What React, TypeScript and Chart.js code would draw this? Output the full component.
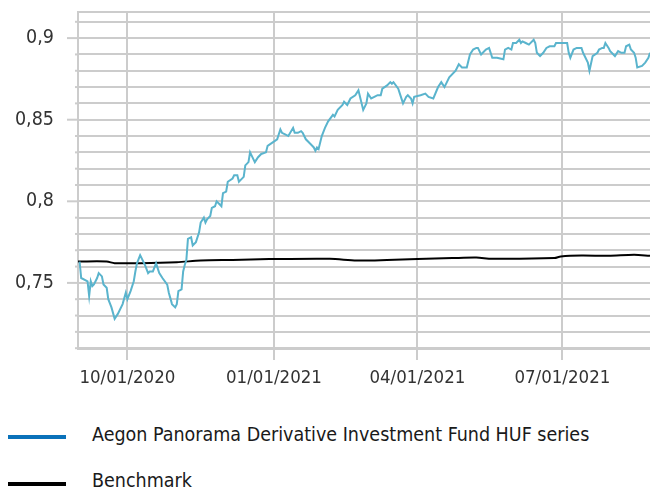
import React, { useEffect, useRef } from 'react';
import { Chart, registerables } from 'chart.js';

Chart.register(...registerables);

// ---- data ----
const seriesNames = ['Aegon Panorama Derivative Investment Fund HUF series', 'Benchmark'];

const fundDates = [
  '2020-09-01','2020-09-02','2020-09-06','2020-09-07','2020-09-08','2020-09-09','2020-09-10','2020-09-12','2020-09-13','2020-09-15',
  '2020-09-16','2020-09-18','2020-09-19','2020-09-21','2020-09-23','2020-09-25','2020-09-28','2020-09-30','2020-10-01','2020-10-03',
  '2020-10-05','2020-10-06','2020-10-07','2020-10-09','2020-10-10','2020-10-12','2020-10-14','2020-10-15','2020-10-17','2020-10-19',
  '2020-10-21','2020-10-23','2020-10-26','2020-10-27','2020-10-29','2020-10-31','2020-11-01','2020-11-02','2020-11-04','2020-11-05',
  '2020-11-06','2020-11-07','2020-11-08','2020-11-10','2020-11-11','2020-11-13','2020-11-15','2020-11-16','2020-11-18','2020-11-19',
  '2020-11-20','2020-11-22','2020-11-23','2020-11-25','2020-11-26','2020-11-28','2020-11-29','2020-11-30','2020-12-02','2020-12-03',
  '2020-12-06','2020-12-07','2020-12-09','2020-12-10','2020-12-11','2020-12-13','2020-12-14','2020-12-16','2020-12-17','2020-12-18',
  '2020-12-20','2020-12-22','2020-12-24','2020-12-27','2020-12-28','2020-12-31','2021-01-03','2021-01-05','2021-01-06','2021-01-08',
  '2021-01-10','2021-01-13','2021-01-14','2021-01-16','2021-01-18','2021-01-19','2021-01-21','2021-01-23','2021-01-25','2021-01-26',
  '2021-01-27','2021-01-28','2021-01-29','2021-01-31','2021-02-02','2021-02-04','2021-02-07','2021-02-08','2021-02-10','2021-02-13',
  '2021-02-14','2021-02-16','2021-02-18','2021-02-21','2021-02-23','2021-02-26','2021-02-28','2021-03-01','2021-03-03','2021-03-05',
  '2021-03-07','2021-03-09','2021-03-10','2021-03-13','2021-03-15','2021-03-16','2021-03-17','2021-03-20','2021-03-21','2021-03-23',
  '2021-03-25','2021-03-26','2021-03-28','2021-03-29','2021-03-30','2021-04-03','2021-04-06','2021-04-08','2021-04-11','2021-04-14',
  '2021-04-16','2021-04-18','2021-04-21','2021-04-25','2021-04-27','2021-04-29','2021-05-02','2021-05-04','2021-05-06','2021-05-08',
  '2021-05-09','2021-05-11','2021-05-14','2021-05-16','2021-05-18','2021-05-21','2021-05-25','2021-05-26','2021-05-28','2021-05-30',
  '2021-05-31','2021-06-02','2021-06-04','2021-06-05','2021-06-06','2021-06-08','2021-06-10','2021-06-13','2021-06-14','2021-06-15',
  '2021-06-17','2021-06-19','2021-06-21','2021-06-23','2021-06-26','2021-06-27','2021-06-30','2021-07-02','2021-07-04','2021-07-05',
  '2021-07-06','2021-07-08','2021-07-10','2021-07-13','2021-07-14','2021-07-17','2021-07-18','2021-07-20','2021-07-23','2021-07-24',
  '2021-07-26','2021-07-27','2021-07-28','2021-07-30','2021-07-31','2021-08-03','2021-08-05','2021-08-07','2021-08-09','2021-08-10',
  '2021-08-12','2021-08-13','2021-08-15','2021-08-16','2021-08-17','2021-08-20','2021-08-22','2021-08-24','2021-08-25',
];

const fundValues = [
  0.763,0.753,0.751,0.742,0.751,0.748,0.749,0.753,0.756,0.754,
  0.749,0.747,0.740,0.735,0.728,0.731,0.737,0.744,0.740,0.745,
  0.751,0.757,0.762,0.767,0.765,0.761,0.756,0.757,0.757,0.762,
  0.756,0.753,0.749,0.744,0.737,0.735,0.737,0.745,0.746,0.757,
  0.761,0.764,0.777,0.778,0.773,0.775,0.781,0.787,0.790,0.787,
  0.789,0.791,0.796,0.797,0.800,0.798,0.797,0.805,0.806,0.812,
  0.814,0.816,0.816,0.812,0.813,0.815,0.822,0.824,0.830,0.828,
  0.824,0.827,0.829,0.830,0.834,0.836,0.838,0.844,0.842,0.841,
  0.840,0.845,0.842,0.842,0.843,0.842,0.838,0.836,0.834,0.833,
  0.831,0.833,0.832,0.840,0.845,0.849,0.853,0.852,0.856,0.859,
  0.861,0.859,0.863,0.865,0.868,0.856,0.860,0.866,0.863,0.864,
  0.865,0.865,0.869,0.871,0.873,0.872,0.873,0.869,0.866,0.860,
  0.864,0.865,0.863,0.860,0.864,0.865,0.866,0.864,0.863,0.870,
  0.873,0.870,0.876,0.880,0.884,0.882,0.882,0.890,0.893,0.894,
  0.894,0.890,0.893,0.894,0.888,0.888,0.887,0.893,0.894,0.893,
  0.897,0.897,0.899,0.897,0.898,0.897,0.896,0.899,0.897,0.891,
  0.889,0.891,0.894,0.895,0.895,0.897,0.897,0.897,0.897,0.891,
  0.888,0.893,0.894,0.894,0.891,0.885,0.880,0.889,0.891,0.893,
  0.894,0.894,0.897,0.894,0.892,0.889,0.892,0.891,0.891,0.895,
  0.896,0.893,0.891,0.888,0.882,0.883,0.885,0.888,0.891,
];

const benchDates = [
  '2020-08-31','2020-09-18','2020-09-23','2020-10-09','2020-11-01','2020-11-16','2020-12-06','2020-12-29',
  '2021-02-05','2021-02-22','2021-03-13','2021-04-01','2021-04-23','2021-05-08','2021-05-18','2021-06-26',
  '2021-06-30','2021-07-13','2021-07-30','2021-08-15','2021-08-25',
];
const benchValues = [
  0.7631,0.7631,0.7621,0.7621,0.7627,0.7637,0.7641,0.7646,
  0.7648,0.7637,0.7640,0.7646,0.7652,0.7655,0.7648,0.7652,
  0.7662,0.7668,0.7666,0.7672,0.7666,
];

const xTickDates = ['2020-10-01', '2021-01-01', '2021-04-01', '2021-07-01'];
const xTickLabels = ['10/01/2020', '01/01/2021', '04/01/2021', '07/01/2021'];
const xRange = ['2020-08-31', '2021-08-25'];
const yMin = 0.7095;
const yMax = 0.916;
const yLabelValues = [0.75, 0.8, 0.85, 0.9];

// ---- styles ----
const FONT = "'DejaVu Sans Condensed', 'DejaVu Sans', sans-serif";
const GRID = '#cccccc';
const FUND_LINE = '#5ab4cd';
const FUND_LEGEND = '#0a72ba';
const TEXT = '#333333';

const toDay = (s: string) => Date.parse(s + 'T00:00:00Z') / 86400000;

const yTickPlugin = {
  id: 'yTickMarks',
  afterDraw(chart: any) {
    const s = chart.scales.y;
    const ctx = chart.ctx;
    ctx.save();
    ctx.strokeStyle = GRID;
    ctx.lineWidth = 2;
    s.ticks.forEach((t: any) => {
      if (t.value > yMax - 0.0005) return;
      const major = yLabelValues.some((v) => Math.abs(v - t.value) < 1e-6);
      const y = s.getPixelForValue(t.value);
      const len = major ? 11 : 3;
      ctx.beginPath();
      ctx.moveTo(s.right - len, y);
      ctx.lineTo(s.right, y);
      ctx.stroke();
    });
    ctx.restore();
  },
};

export default function App() {
  const ref = useRef<HTMLCanvasElement>(null);

  useEffect(() => {
    document.body.style.margin = '0';
    const canvas = ref.current!;
    const chart = new Chart(canvas, {
      type: 'line',
      data: {
        datasets: [
          {
            label: seriesNames[0],
            data: fundDates.map((d, i) => ({ x: toDay(d), y: fundValues[i] })),
            borderColor: FUND_LINE,
            backgroundColor: FUND_LEGEND,
            borderWidth: 2,
            pointRadius: 0,
            tension: 0,
          },
          {
            label: seriesNames[1],
            data: benchDates.map((d, i) => ({ x: toDay(d), y: benchValues[i] })),
            borderColor: '#000000',
            backgroundColor: '#000000',
            borderWidth: 2,
            pointRadius: 0,
            tension: 0.3,
          },
        ],
      },
      options: {
        animation: false,
        responsive: false,
        layout: { padding: { top: 12, left: 0, right: 0, bottom: 0 } },
        plugins: { legend: { display: false }, tooltip: { enabled: false } },
        scales: {
          x: {
            type: 'linear',
            min: toDay(xRange[0]),
            max: toDay(xRange[1]),
            afterBuildTicks: (s: any) => {
              s.ticks = xTickDates.map((d) => ({ value: toDay(d) }));
            },
            afterFit: (s: any) => {
              s.height = 51;
              s.paddingLeft = 0;
              s.paddingRight = 0;
            },
            grid: { color: GRID, lineWidth: 2, tickLength: 11, drawTicks: true },
            border: { color: GRID, width: 2 },
            ticks: {
              autoSkip: false,
              maxRotation: 0,
              padding: 7,
              color: TEXT,
              font: { family: FONT, size: 18.5 },
              callback: (_v: any, i: number) => xTickLabels[i],
            },
          },
          y: {
            type: 'linear',
            min: yMin,
            max: yMax,
            afterBuildTicks: (s: any) => {
              const t: any[] = [];
              for (let i = 71; i <= 91; i++) t.push({ value: i / 100 });
              t.push({ value: yMax });
              s.ticks = t;
            },
            afterFit: (s: any) => {
              s.width = 78;
              s.paddingTop = 0;
              s.paddingBottom = 0;
            },
            grid: { color: GRID, lineWidth: 2, drawTicks: false },
            border: { color: GRID, width: 2 },
            ticks: {
              autoSkip: false,
              padding: 24,
              color: TEXT,
              font: { family: FONT, size: 19.5 },
              callback: (v: any) => {
                const m = yLabelValues.find((x) => Math.abs(x - v) < 1e-6);
                return m === undefined ? '' : String(m).replace('.', ',');
              },
            },
          },
        },
      },
      plugins: [yTickPlugin],
    });
    return () => chart.destroy();
  }, []);

  const legendText: React.CSSProperties = {
    position: 'absolute',
    left: 92,
    fontFamily: FONT,
    fontSize: 19.5,
    lineHeight: '22px',
    color: '#1a1a1a',
    whiteSpace: 'nowrap',
  };

  return (
    <div style={{ position: 'relative', width: 650, height: 489, overflow: 'hidden', background: '#fff' }}>
      <canvas ref={ref} width={650} height={400} style={{ position: 'absolute', left: 0, top: 0 }} />
      <div style={{ position: 'absolute', left: 8, top: 435, width: 58, height: 4, background: FUND_LEGEND }} />
      <div style={{ ...legendText, top: 424 }}>{seriesNames[0]}</div>
      <div style={{ position: 'absolute', left: 8, top: 482, width: 58, height: 4, background: '#000' }} />
      <div style={{ ...legendText, top: 470 }}>{seriesNames[1]}</div>
    </div>
  );
}
